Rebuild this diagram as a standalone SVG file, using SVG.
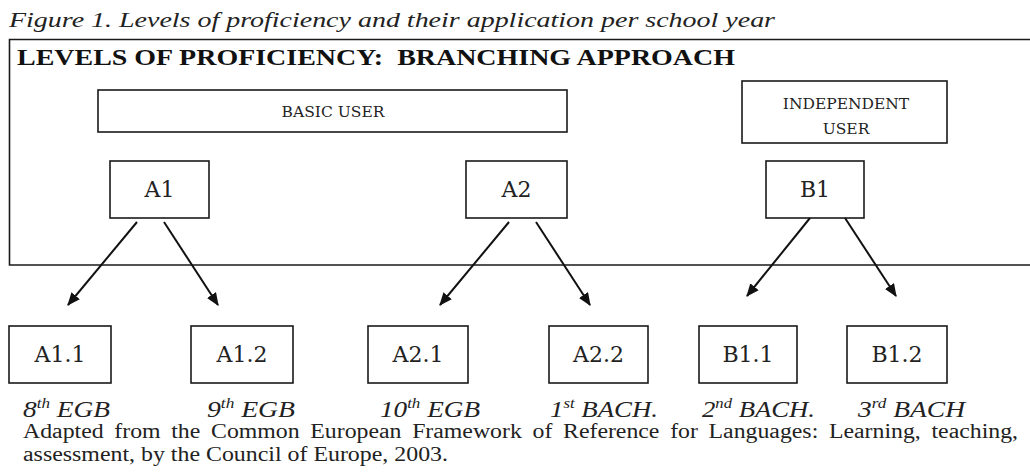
<svg xmlns="http://www.w3.org/2000/svg" width="1030" height="472" viewBox="0 0 1030 472">
<style>
.bg{fill:#fff}
.box{fill:#fff;stroke:#1a1a1a;stroke-width:1.6}
.frame{fill:none;stroke:#1a1a1a;stroke-width:1.6}
.cap{font-family:"Liberation Serif","Times New Roman",serif;font-style:italic;font-size:21px;fill:#222}
.title{font-family:"Liberation Serif","Times New Roman",serif;font-weight:bold;font-size:24px;fill:#111}
.user{font-family:"DejaVu Serif",serif;font-size:15.5px;fill:#222;text-anchor:middle}
.lvl{font-family:"DejaVu Serif",serif;font-size:22px;fill:#222;text-anchor:middle}
.yr{font-family:"Liberation Serif","Times New Roman",serif;font-style:italic;font-size:24px;fill:#222}
.sup{font-size:15px}
.foot{font-family:"Liberation Serif","Times New Roman",serif;font-size:20px;fill:#222}
.conn line{stroke:#111;stroke-width:2;marker-end:url(#ah)}
</style>
<defs>
<marker id="ah" viewBox="0 0 12 10" refX="11" refY="5" markerWidth="13" markerHeight="11" markerUnits="userSpaceOnUse" orient="auto">
<path d="M0,0 L12,5 L0,10 z" fill="#111"/>
</marker>
</defs>
<rect class="bg" width="1030" height="472"/>
<text class="cap" x="9" y="27" textLength="766" lengthAdjust="spacingAndGlyphs">Figure 1. Levels of proficiency and their application per school year</text>
<path class="frame" d="M1030,39.5 H9.5 V265 H1030"/>
<text class="title" x="17" y="65" textLength="718" lengthAdjust="spacingAndGlyphs">LEVELS OF PROFICIENCY:&#160; BRANCHING APPROACH</text>

<g id="basic-user"><rect class="box" x="98" y="90" width="469" height="42"/><text class="user" x="333" y="117">BASIC USER</text></g>
<g id="independent-user"><rect class="box" x="742" y="81" width="205" height="62"/><text class="user" x="846" y="109">INDEPENDENT</text><text class="user" x="846" y="134">USER</text></g>

<g id="A1"><rect class="box" x="110" y="161" width="99" height="57"/><text class="lvl" x="159.5" y="197">A1</text></g>
<g id="A2"><rect class="box" x="466" y="161" width="101" height="57"/><text class="lvl" x="516.5" y="197">A2</text></g>
<g id="B1"><rect class="box" x="766" y="161" width="98" height="57"/><text class="lvl" x="815" y="197">B1</text></g>

<g id="A1.1"><rect class="box" x="9" y="326" width="102" height="57"/><text class="lvl" x="60" y="362">A1.1</text></g>
<g id="A1.2"><rect class="box" x="191" y="326" width="102" height="57"/><text class="lvl" x="242" y="362">A1.2</text></g>
<g id="A2.1"><rect class="box" x="368" y="326" width="100" height="57"/><text class="lvl" x="418" y="362">A2.1</text></g>
<g id="A2.2"><rect class="box" x="549" y="326" width="99" height="57"/><text class="lvl" x="598.5" y="362">A2.2</text></g>
<g id="B1.1"><rect class="box" x="699" y="326" width="98" height="57"/><text class="lvl" x="748" y="362">B1.1</text></g>
<g id="B1.2"><rect class="box" x="847" y="326" width="100" height="57"/><text class="lvl" x="897" y="362">B1.2</text></g>

<g id="connectors" class="conn">
<line x1="137" y1="222" x2="68" y2="305"/>
<line x1="164" y1="222" x2="218" y2="305"/>
<line x1="509" y1="222" x2="440" y2="305"/>
<line x1="536" y1="222" x2="590" y2="305"/>
<line x1="810" y1="218" x2="747" y2="296"/>
<line x1="845" y1="218" x2="896" y2="296"/>
</g>

<g id="years">
<text class="yr" x="23" y="417" textLength="87" lengthAdjust="spacingAndGlyphs">8<tspan class="sup" dy="-9">th</tspan><tspan dy="9"> EGB</tspan></text>
<text class="yr" x="207" y="417" textLength="88" lengthAdjust="spacingAndGlyphs">9<tspan class="sup" dy="-9">th</tspan><tspan dy="9"> EGB</tspan></text>
<text class="yr" x="380" y="417" textLength="100" lengthAdjust="spacingAndGlyphs">10<tspan class="sup" dy="-9">th</tspan><tspan dy="9"> EGB</tspan></text>
<text class="yr" x="550" y="417" textLength="108" lengthAdjust="spacingAndGlyphs">1<tspan class="sup" dy="-9">st</tspan><tspan dy="9"> BACH.</tspan></text>
<text class="yr" x="702" y="417" textLength="113" lengthAdjust="spacingAndGlyphs">2<tspan class="sup" dy="-9">nd</tspan><tspan dy="9"> BACH.</tspan></text>
<text class="yr" x="858" y="417" textLength="107" lengthAdjust="spacingAndGlyphs">3<tspan class="sup" dy="-9">rd</tspan><tspan dy="9"> BACH</tspan></text>
</g>

<text class="foot" x="23" y="438" word-spacing="4" textLength="995" lengthAdjust="spacingAndGlyphs">Adapted from the Common European Framework of Reference for Languages: Learning, teaching,</text>
<text class="foot" x="23" y="461" textLength="425" lengthAdjust="spacingAndGlyphs">assessment, by the Council of Europe, 2003.</text>
</svg>
